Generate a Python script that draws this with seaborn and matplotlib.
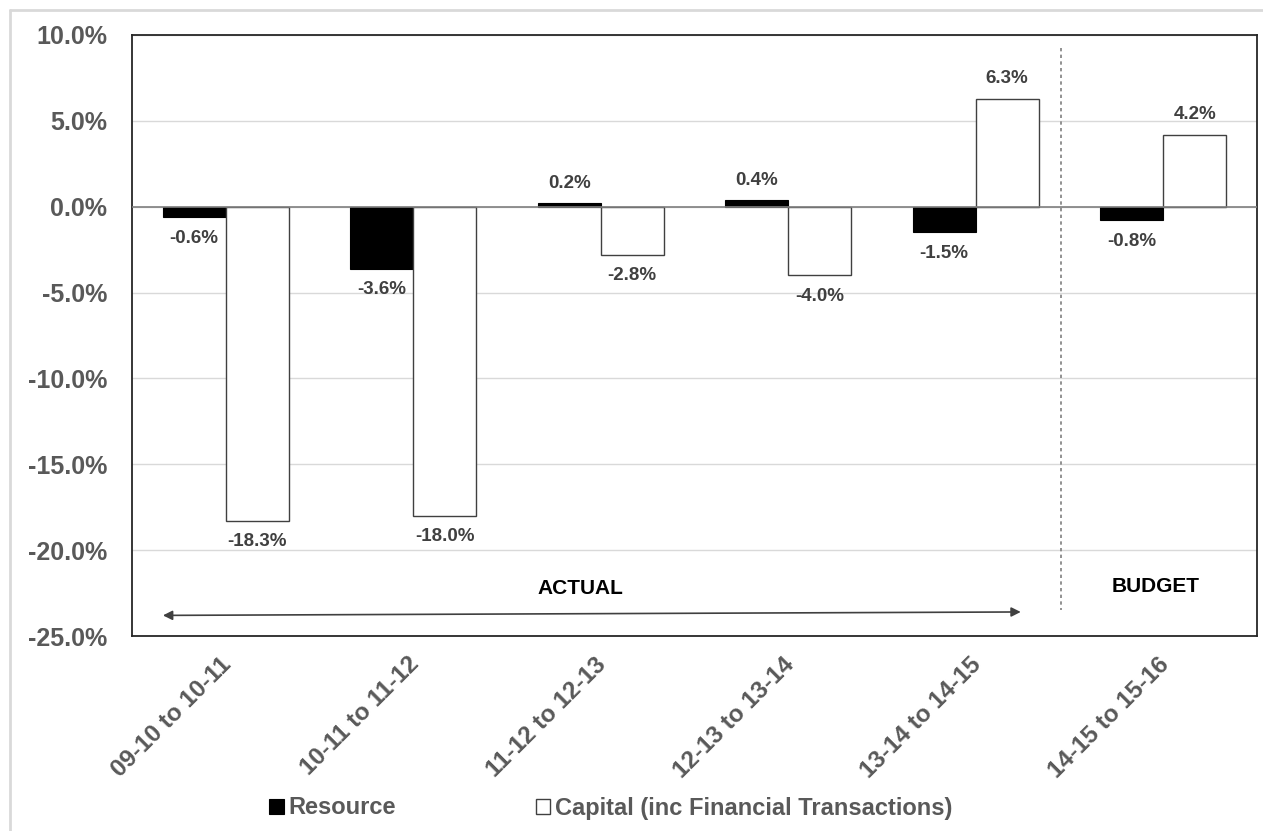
import matplotlib
matplotlib.use("Agg")
import matplotlib.pyplot as plt
import matplotlib.transforms as mtransforms
from matplotlib.lines import Line2D
from matplotlib.patches import Patch
import seaborn as sns
import pandas as pd

# Year-on-year change by period
periods = ["09-10 to 10-11", "10-11 to 11-12", "11-12 to 12-13",
           "12-13 to 13-14", "13-14 to 14-15", "14-15 to 15-16"]
resource = [-0.6, -3.6, 0.2, 0.4, -1.5, -0.8]
capital = [-18.3, -18.0, -2.8, -4.0, 6.3, 4.2]
series_names = ["Resource", "Capital (inc Financial Transactions)"]
y_ticks = [10, 5, 0, -5, -10, -15, -20, -25]

df = pd.DataFrame({
    "period": periods * 2,
    "series": [series_names[0]] * len(periods) + [series_names[1]] * len(periods),
    "value": resource + capital,
})

sns.set_theme(style="white")
plt.rcParams["font.family"] = ["Liberation Sans", "DejaVu Sans"]

fig = plt.figure(figsize=(12.63, 8.31), dpi=100)
ax = fig.add_axes([132 / 1263, 1 - 636 / 831, 1125 / 1263, 601 / 831])

sns.barplot(data=df, x="period", y="value", hue="series", order=periods,
            hue_order=series_names, palette=["black", "white"], width=0.672,
            ax=ax, legend=False, saturation=1, zorder=3)

tick_grey = "#595959"
label_grey = "#404040"

for i, cont in enumerate(ax.containers):
    for patch in cont:
        if i == 0:
            patch.set_edgecolor("black")
            patch.set_linewidth(0.8)
        else:
            patch.set_edgecolor(label_grey)
            patch.set_linewidth(1.0)
    vals = resource if i == 0 else capital
    for patch, v in zip(cont, vals):
        xc = patch.get_x() + patch.get_width() / 2
        off = 8 if v >= 0 else -9
        ax.annotate(f"{v:.1f}%", (xc, v), xytext=(0, off),
                    textcoords="offset points", ha="center",
                    va="bottom" if v >= 0 else "top",
                    fontsize=13.5, fontweight="bold", color=label_grey, zorder=5)

ax.set_xlim(-0.5, len(periods) - 0.5)
ax.set_ylim(-25, 10)
ax.set_yticks(y_ticks)
ax.set_yticklabels([f"{t:.1f}%" for t in y_ticks], fontsize=18,
                   fontweight="bold", color=tick_grey)
ax.set_xticks(range(len(periods)))
ax.set_xticklabels(periods, rotation=45, ha="right", rotation_mode="anchor",
                   fontsize=17.5, fontweight="bold", color=tick_grey)
ax.tick_params(axis="x", length=0, pad=12)
ax.tick_params(axis="y", length=0, pad=18)
shift = mtransforms.ScaledTranslation(-6 / 100, 0, fig.dpi_scale_trans)
for lab in ax.get_xticklabels():
    lab.set_transform(lab.get_transform() + shift)
ax.set_xlabel("")
ax.set_ylabel("")

ax.grid(axis="y", color="#d9d9d9", linewidth=1, zorder=0)
ax.set_axisbelow(True)
ax.axhline(0, color="#7f7f7f", linewidth=1.2, zorder=4)
for s in ax.spines.values():
    s.set_visible(True)
    s.set_color("#262626")
    s.set_linewidth(1.3)

# Actual / budget split
ax.plot([4.455, 4.455], [9.25, -23.5], linestyle=(0, (2, 2)),
        color="#7f7f7f", linewidth=1.2, zorder=2)
ax.annotate("", xy=(-0.335, -23.8), xytext=(4.24, -23.6),
            arrowprops=dict(arrowstyle="<|-|>", color="#404040", lw=1.2,
                            mutation_scale=14, shrinkA=0, shrinkB=0))
ax.text(1.89, -22.25, "ACTUAL", ha="center", va="center", fontsize=15,
        fontweight="bold", color="black")
ax.text(4.96, -22.1, "BUDGET", ha="center", va="center", fontsize=15,
        fontweight="bold", color="black")

handles = [Patch(facecolor="black", edgecolor="black", linewidth=0.8),
           Patch(facecolor="white", edgecolor=label_grey, linewidth=1.0)]
leg = fig.legend(handles, series_names, loc="center", ncol=2,
                 bbox_to_anchor=(611 / 1263, 1 - 808 / 831), frameon=False,
                 handlelength=0.6, handleheight=0.6, handletextpad=0.2,
                 columnspacing=5.95, prop={"size": 17, "weight": "bold"})
for t in leg.get_texts():
    t.set_color(tick_grey)

# outer frame
fig.add_artist(Line2D([10 / 1263, 1], [1 - 10 / 831] * 2, color="#d9d9d9",
                      linewidth=2, transform=fig.transFigure))
fig.add_artist(Line2D([10 / 1263] * 2, [0, 1 - 10 / 831], color="#d9d9d9",
                      linewidth=2, transform=fig.transFigure))

fig.savefig("out.png", dpi=100, facecolor="white")
